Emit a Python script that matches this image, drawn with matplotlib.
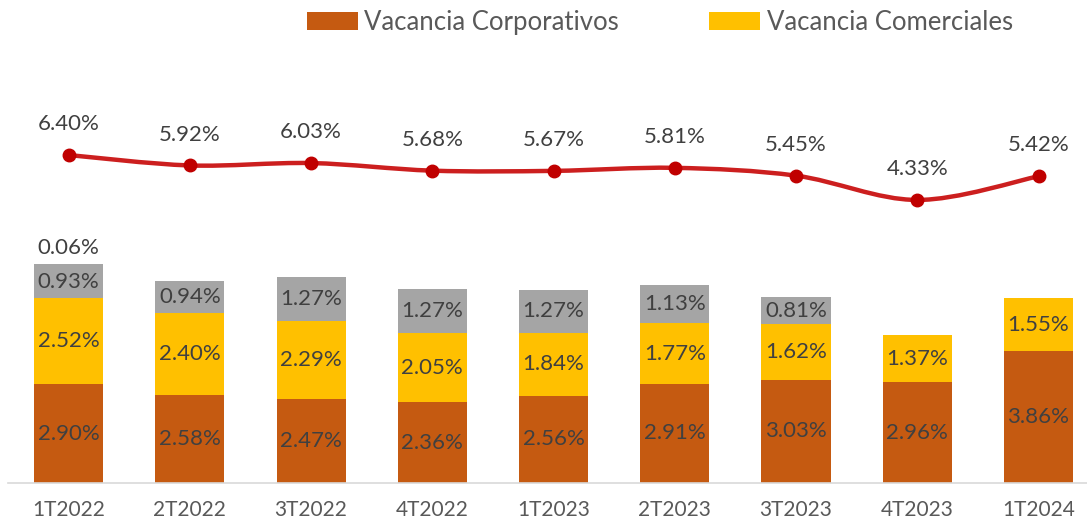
import numpy as np
import matplotlib.pyplot as plt
from matplotlib.path import Path
from matplotlib.patches import PathPatch

plt.rcParams['font.family'] = ['Lato', 'DejaVu Sans']

quarters = ['1T2022', '2T2022', '3T2022', '4T2022', '1T2023', '2T2023', '3T2023', '4T2023', '1T2024']
corporativos = [2.90, 2.58, 2.47, 2.36, 2.56, 2.91, 3.03, 2.96, 3.86]
comerciales = [2.52, 2.40, 2.29, 2.05, 1.84, 1.77, 1.62, 1.37, 1.55]
otros = [0.93, 0.94, 1.27, 1.27, 1.27, 1.13, 0.81, 0.0, 0.0]
extra = [0.06, 0, 0, 0, 0, 0, 0, 0, 0]
total = [6.40, 5.92, 6.03, 5.68, 5.67, 5.81, 5.45, 4.33, 5.42]

c_corp = '#C55A11'
c_com = '#FFC000'
c_otros = '#A5A5A5'
c_line = '#C00000'
txt = '#404040'
fs = 16

fig = plt.figure(figsize=(10.87, 5.26), dpi=100)
ax = fig.add_axes([8 / 1087, 43 / 526, 1 - 8 / 1087, 423 / 526])
x = np.arange(len(quarters))
w = 0.57

b1 = ax.bar(x, corporativos, w, color=c_corp, label='Vacancia Corporativos')
bottom2 = np.array(corporativos)
b2 = ax.bar(x, comerciales, w, bottom=bottom2, color=c_com, label='Vacancia Comerciales')
bottom3 = bottom2 + np.array(comerciales)
b3 = ax.bar(x, otros, w, bottom=bottom3, color=c_otros)
bottom4 = bottom3 + np.array(otros)
b4 = ax.bar(x, extra, w, bottom=bottom4, color=c_otros)

for i in range(len(x)):
    ax.text(x[i], corporativos[i] / 2, f'{corporativos[i]:.2f}%', ha='center', va='center', fontsize=fs, color=txt)
    ax.text(x[i], bottom2[i] + comerciales[i] / 2, f'{comerciales[i]:.2f}%', ha='center', va='center', fontsize=fs, color=txt)
    if otros[i] > 0:
        ax.text(x[i], bottom3[i] + otros[i] / 2, f'{otros[i]:.2f}%', ha='center', va='center', fontsize=fs, color=txt)
    if extra[i] > 0:
        ax.text(x[i], bottom4[i] + extra[i] + 0.2, f'{extra[i]:.2f}%', ha='center', va='bottom', fontsize=fs, color=txt)

ax.set_xlim(-0.5, 8.4)
ax.set_ylim(0, 12.4)
ax.set_yticks([])
ax.set_xticks(x)
ax.set_xticklabels(quarters, fontsize=15, color='#595959')
ax.tick_params(axis='x', length=0, pad=12)
for s in ['top', 'right', 'left']:
    ax.spines[s].set_visible(False)
ax.spines['bottom'].set_color('#D9D9D9')
ax.spines['bottom'].set_linewidth(1.2)

# total line on its own scale, smoothed like the spreadsheet
ax2 = ax.twinx()
ax2.set_ylim(-8.715, 10.78)
ax2.axis('off')
pts = np.column_stack([x, total]).astype(float)
verts = [pts[0]]
codes = [Path.MOVETO]
n = len(pts)
for i in range(n - 1):
    p0 = pts[i - 1] if i > 0 else pts[i]
    p1 = pts[i]
    p2 = pts[i + 1]
    p3 = pts[i + 2] if i + 2 < n else pts[i + 1]
    verts += [p1 + (p2 - p0) / 6, p2 - (p3 - p1) / 6, p2]
    codes += [Path.CURVE4] * 3
ax2.add_patch(PathPatch(Path(verts, codes), facecolor='none', edgecolor='#CC1F1F', lw=3.2, capstyle='round'))
ax2.plot(x, total, 'o', color=c_line, markersize=9, zorder=3)
for i in range(len(x)):
    ax2.annotate(f'{total[i]:.2f}%', (x[i], total[i]), xytext=(0, 15), textcoords='offset points',
                 ha='center', va='bottom', fontsize=fs, color=txt)

fig.legend(handles=[b1, b2], loc='upper center', bbox_to_anchor=(0.607, 1.025), ncol=2, frameon=False,
           fontsize=18.5, labelcolor='#595959', handlelength=2.0, handleheight=0.75, columnspacing=3.5, handletextpad=0.25)

fig.savefig('out.png', dpi=100)
